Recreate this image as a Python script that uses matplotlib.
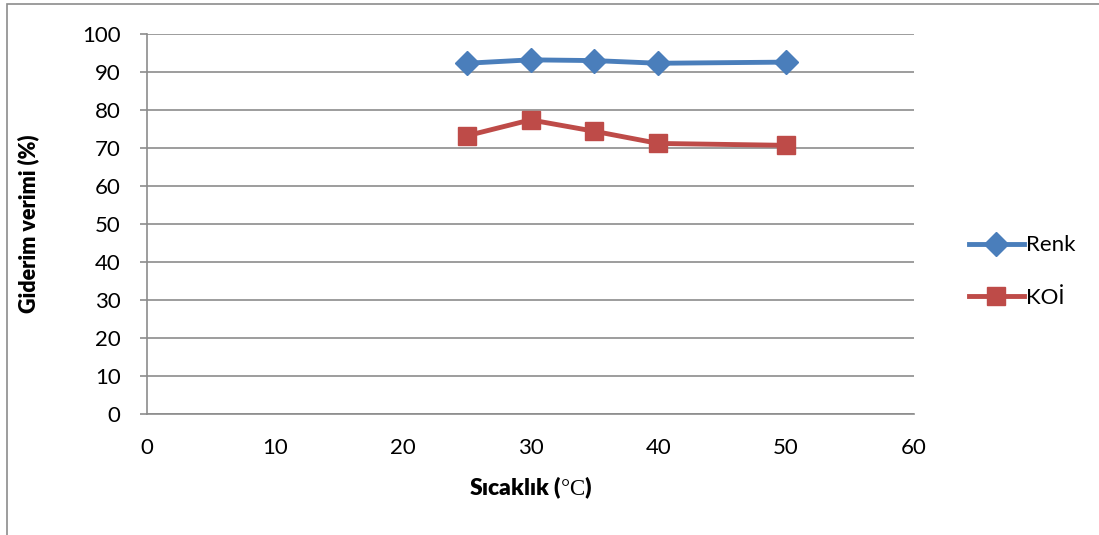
import matplotlib
matplotlib.use("Agg")
import matplotlib.pyplot as plt
from matplotlib.patches import Rectangle

temps = [25, 30, 35, 40, 50]
renk = [92.3, 93.2, 93.0, 92.3, 92.6]
koi = [73.2, 77.4, 74.4, 71.2, 70.7]
series_names = ["Renk", "KOİ"]
x_ticks = [0, 10, 20, 30, 40, 50, 60]
y_ticks = [0, 10, 20, 30, 40, 50, 60, 70, 80, 90, 100]

plt.rcParams['font.family'] = ['Lato', 'DejaVu Sans']
plt.rcParams['mathtext.fontset'] = 'custom'
plt.rcParams['mathtext.rm'] = 'Liberation Serif'

W, H = 1099, 535
fig = plt.figure(figsize=(W / 100, H / 100), dpi=100)
fig.patches.append(Rectangle((7 / W, -0.01), 1.2, 1 - 4 / H + 0.01, transform=fig.transFigure,
                             fill=False, edgecolor='#8c8c8c', linewidth=1.2))

ax = fig.add_axes([147 / W, 1 - 414 / H, (914 - 147) / W, (414 - 34) / H])
ax.plot(temps, renk, color='#4A7EBB', lw=3.5, marker='D', markersize=12,
        label=series_names[0], zorder=3)
ax.plot(temps, koi, color='#BE4B48', lw=3.5, marker='s', markersize=13.5,
        label=series_names[1], zorder=3)

ax.set_xlim(0, 60)
ax.set_ylim(0, 100)
ax.set_xticks(x_ticks)
ax.set_yticks(y_ticks)
ax.yaxis.grid(True, color='#8c8c8c', lw=1.2)
ax.set_axisbelow(True)
for s in ['top', 'right']:
    ax.spines[s].set_visible(False)
for s in ['left', 'bottom']:
    ax.spines[s].set_color('#8c8c8c')
    ax.spines[s].set_linewidth(1.2)
ax.tick_params(axis='y', length=5, color='#8c8c8c', width=1.2, labelsize=16, pad=14)
ax.tick_params(axis='x', length=0, labelsize=16, pad=17)

ax.set_ylabel('Giderim verimi (%)', fontsize=15.5, fontweight='heavy')
ax.yaxis.set_label_coords(-0.140, 0.5)
ax.set_xlabel('Sıcaklık (' + r'$\mathrm{°C}$' + ')', fontsize=16.5, fontweight='heavy')
ax.xaxis.set_label_coords(0.5, -0.16)

leg = ax.legend(loc='center left', bbox_to_anchor=(1.045, 0.375), frameon=False, fontsize=16,
                handlelength=2.5, handletextpad=0.1, labelspacing=1.45)

fig.savefig('out.png', dpi=100)
